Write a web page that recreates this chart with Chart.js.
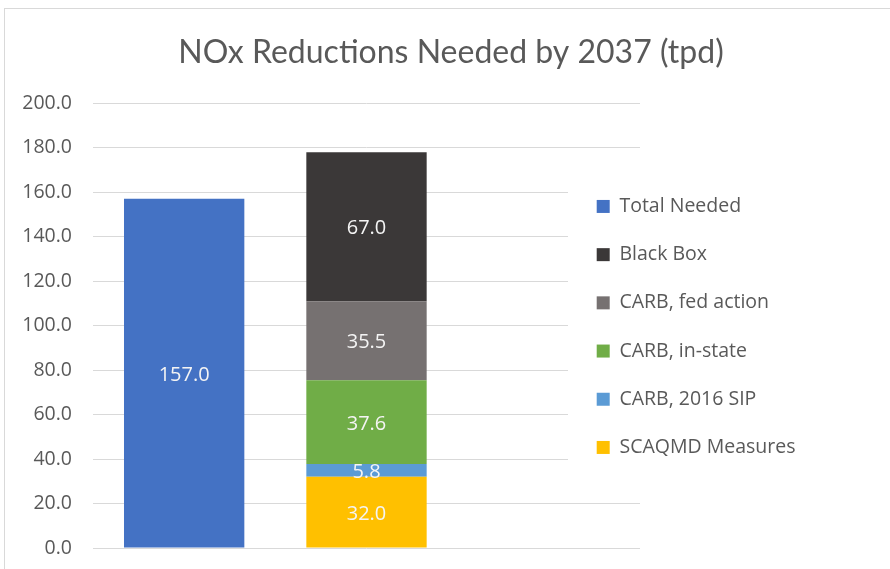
<!DOCTYPE html>
<html>
<head>
<meta charset="utf-8">
<script src="https://cdn.jsdelivr.net/npm/chart.js@4/dist/chart.umd.min.js"></script>
<style>
  html, body { margin: 0; padding: 0; background: #fff; overflow: hidden; }
  #wrap { position: relative; width: 890px; height: 569px; }
  #frame { position: absolute; left: 4px; top: 8px; width: 900px; height: 600px;
           border-left: 1px solid #d9d9d9; border-top: 1px solid #d9d9d9; pointer-events: none; }
  canvas { position: absolute; left: 0; top: 0; }
</style>
</head>
<body>
<div id="wrap">
  <canvas id="c" width="890" height="569"></canvas>
  <div id="frame"></div>
</div>
<script>
// ---- data ----
const categories = ['', '', ''];
const totalNeeded = [157.0, null, null];
const scaqmdMeasures = [null, 32.0, null];
const carb2016Sip = [null, 5.8, null];
const carbInState = [null, 37.6, null];
const carbFedAction = [null, 35.5, null];
const blackBox = [null, 67.0, null];
const seriesNames = ['Total Needed', 'SCAQMD Measures', 'CARB, 2016 SIP', 'CARB, in-state', 'CARB, fed action', 'Black Box'];
const yTicks = [0, 20, 40, 60, 80, 100, 120, 140, 160, 180, 200];
const titleText = 'NOx Reductions Needed by 2037 (tpd)';

const TITLE_FONT = 'Lato, "Open Sans", sans-serif';
const FONT = '"Open Sans", Lato, sans-serif';
const GREY = '#595959';

const series = [totalNeeded, scaqmdMeasures, carb2016Sip, carbInState, carbFedAction, blackBox];
const colors = ['#4472C4', '#FFC000', '#5B9BD5', '#70AD47', '#767171', '#3B3838'];

const datasets = series.map((d, i) => ({
  label: seriesNames[i],
  data: d,
  backgroundColor: colors[i],
  borderWidth: 0,
  barPercentage: 0.66,
  categoryPercentage: 1.0
}));

// value labels in the middle of each segment
const valueLabels = {
  id: 'valueLabels',
  afterDatasetsDraw(chart) {
    const ctx = chart.ctx;
    ctx.save();
    ctx.font = '20px ' + FONT;
    ctx.fillStyle = '#f4f4f4';
    ctx.textAlign = 'center';
    ctx.textBaseline = 'middle';
    chart.data.datasets.forEach((ds, di) => {
      const meta = chart.getDatasetMeta(di);
      meta.data.forEach((el, i) => {
        const v = ds.data[i];
        if (v === null || v === undefined) return;
        const p = el.getProps(['x', 'y', 'base'], true);
        ctx.fillText(v.toFixed(1), p.x, (p.y + p.base) / 2 + 2);
      });
    });
    ctx.restore();
  }
};

// place the library legend over the plot (white box), like the Excel original,
// and centre the title over the whole picture
const placer = {
  id: 'placer',
  afterInit(chart) {
    const lg = chart.legend;
    if (!lg) return;
    lg._layers = () => [{
      z: 1,
      draw(area) {
        const ctx = chart.ctx;
        ctx.save();
        ctx.fillStyle = '#ffffff';
        ctx.fillRect(lg.left, lg.top, lg.width, lg.height);
        ctx.restore();
        lg.draw(area);
      }
    }];
  },
  afterLayout(chart) {
    const lg = chart.legend;
    if (lg) {
      lg.left = 568; lg.right = 890; lg.width = 322;
      lg.top = 168; lg.bottom = 487; lg.height = 319;
    }
    const t = chart.titleBlock;
    if (t) { t.left = 12; t.right = 890; t.width = 878; }
  }
};

new Chart(document.getElementById('c'), {
  type: 'bar',
  data: { labels: categories, datasets: datasets },
  plugins: [valueLabels, placer],
  options: {
    responsive: false,
    animation: false,
    layout: { padding: { left: 0, right: 250, top: 0, bottom: 21 } },
    plugins: {
      title: {
        display: true,
        text: titleText,
        color: GREY,
        font: { family: TITLE_FONT, size: 32, weight: 'normal', lineHeight: 1.2 },
        padding: { top: 33, bottom: 31.6 }
      },
      legend: {
        position: 'chartArea',
        align: 'start',
        labels: {
          color: GREY,
          font: { family: FONT, size: 19.5 },
          boxWidth: 13,
          boxHeight: 13,
          padding: 28.7,
          sort: (a, b) => {
            const r = (x) => x.datasetIndex === 0 ? -100 : -x.datasetIndex;
            return r(a) - r(b);
          }
        }
      },
      tooltip: { enabled: false }
    },
    scales: {
      x: { stacked: true, display: false },
      y: {
        stacked: true,
        min: 0, max: 200,
        afterFit(scale) { scale.width = 93; },
        afterBuildTicks(scale) { scale.ticks = yTicks.map(v => ({ value: v })); },
        ticks: {
          color: GREY,
          font: { family: FONT, size: 19.5 },
          padding: 0,
          callback: (v) => Number(v).toFixed(1)
        },
        grid: { color: '#d9d9d9', lineWidth: 1, drawTicks: true, tickLength: 21, tickColor: 'rgba(0,0,0,0)' },
        border: { display: false }
      }
    }
  }
});
</script>
</body>
</html>
